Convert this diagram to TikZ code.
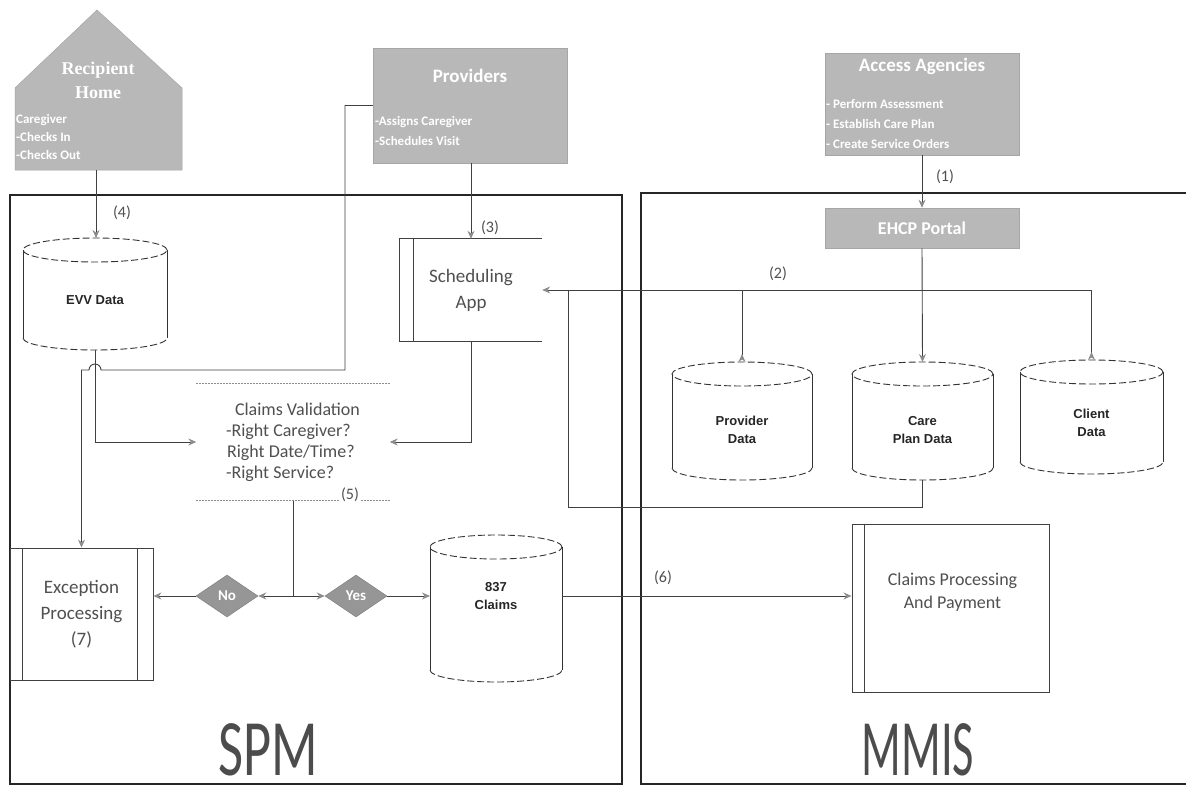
\documentclass[tikz,border=0pt]{standalone}
\usepackage{fontspec}
\setmainfont{Carlito}
\newfontfamily\arialf{Liberation Sans}
\newfontfamily\timesf{Liberation Serif}
\newfontfamily\spmfont[FakeStretch=0.68]{Carlito}
\newfontfamily\mmisfont[FakeStretch=0.58]{Carlito}
\usetikzlibrary{arrows.meta,shapes.geometric}
\definecolor{boxgray}{RGB}{184,184,184}
\definecolor{diagray}{RGB}{150,150,150}
\definecolor{txtgray}{RGB}{80,80,80}
\tikzset{
  frame/.style={draw=black!85, line width=2pt},
  graybox/.style={fill=boxgray, draw=black!35, line width=0.5pt},
  wtitle/.style={text=white, font=\bfseries\fontsize{19}{21}\selectfont, inner sep=0pt},
  wlist/.style={text=white, font=\bfseries\fontsize{13}{#1}\selectfont, align=left, anchor=north west, inner sep=0pt},
  wlist/.default=19,
  housetitle/.style={text=white, font=\timesf\bfseries\fontsize{18}{24}\selectfont, align=center, inner sep=0pt},
  conn/.style={draw=black!75, line width=0.9pt},
  arr/.style={conn, -{Stealth[length=8pt,width=7pt,color=black!45]}},
  arrrev/.style={conn, -{Stealth[length=8pt,width=7pt,color=black!45,reversed]}},
  boxline/.style={draw=black!75, line width=0.9pt},
  lighttxt/.style={text=txtgray, font=\fontsize{19}{#1}\selectfont, align=center, inner sep=0pt},
  lighttxt/.default=26,
  cyltxt/.style={text=black!85, font=\arialf\bfseries\fontsize{13}{18}\selectfont, align=center, inner sep=0pt},
  cylline/.style={draw=black!80, line width=0.9pt},
  cyldash/.style={draw=black!80, line width=0.9pt, dash pattern=on 7pt off 3pt},
  cvline/.style={draw=black!45, line width=0.8pt, dash pattern=on 2pt off 1pt},
  numlbl/.style={text=txtgray, font=\fontsize{16}{16}\selectfont, inner sep=1pt},
  dia/.style={diamond, fill=diagray, draw=black!50, line width=0.5pt, minimum width=62pt, minimum height=42pt, inner sep=0pt, text=white, font=\bfseries\fontsize{15}{15}\selectfont},
  bigtxt/.style={text=black!70, inner sep=0pt}
}
% name, xl, xr, top, bottom, text y, text
\newcommand\dbcyl[7]{%
  \pgfmathsetmacro\cylcx{(#2+#3)/2}%
  \pgfmathsetmacro\cylrx{(#3-#2)/2}%
  \node[cyltxt] (#1) at (\cylcx,#6) {#7};
  \coordinate (#1-n) at (\cylcx,#4);
  \coordinate (#1-s) at (\cylcx,#5);
  \coordinate (#1-w) at (#2,#6);
  \coordinate (#1-e) at (#3,#6);
  \draw[cylline] (#2,#4+12) -- (#2,#5-12);
  \draw[cylline] (#3,#4+12) -- (#3,#5-12);
  \draw[cyldash] (\cylcx,#4+12) ellipse[x radius=\cylrx pt, y radius=12pt];
  \draw[cyldash] (#2,#5-12) arc[start angle=180, end angle=360, x radius=\cylrx pt, y radius=12pt];
}
\begin{document}
\begin{tikzpicture}[x=1pt,y=-1pt]
\useasboundingbox (0,0) rectangle (1186,787);
\clip (0,0) rectangle (1186,787);
\fill[white] (0,0) rectangle (1186,787);

% frames
\draw[frame] (10,195) rectangle (622,784);
\draw[frame] (641,193) rectangle (1194,784);
\node[bigtxt, font=\spmfont\fontsize{80}{80}\selectfont] (spm) at (268,750) {SPM};
\node[bigtxt, font=\mmisfont\fontsize{80}{80}\selectfont] (mmis) at (918,750) {MMIS};

% Recipient Home
\draw[graybox] (15,170) -- (15,88) -- (97,10) -- (182,88) -- (182,170) -- cycle;
\node[housetitle] (hometitle) at (98,80) {Recipient\\Home};
\node[wlist=18] (homelist) at (16,114) {Caregiver\\-Checks In\\-Checks Out};
\coordinate (house-s) at (96,170);

% Providers
\node[graybox, minimum width=194pt, minimum height=115pt] (prov) at (470,105.5) {};
\node[wtitle] (provtitle) at (470,76) {Providers};
\node[wlist=20] (provlist) at (375,116) {-Assigns Caregiver\\-Schedules Visit};

% Access Agencies
\node[graybox, minimum width=194pt, minimum height=102pt] (acc) at (922,104) {};
\node[wtitle] (acctitle) at (922,66) {Access Agencies};
\node[wlist=20] (acclist) at (826,99) {- Perform Assessment\\- Establish Care Plan\\- Create Service Orders};

% EHCP Portal
\node[graybox, minimum width=194pt, minimum height=40pt, text=white, font=\bfseries\fontsize{18}{18}\selectfont] (ehcp) at (922,228) {EHCP Portal};

% Cylinders
\dbcyl{evv}{23}{167}{238}{350}{300}{EVV Data}
\dbcyl{provd}{672}{812}{362}{480}{430}{Provider\\Data}
\dbcyl{care}{852}{993}{362}{480}{430}{Care\\Plan Data}
\dbcyl{client}{1020}{1163}{360}{474}{423}{Client\\Data}
\dbcyl{c837}{430}{562}{535}{682}{596}{837\\Claims}

% Scheduling App
\node[minimum width=142pt, minimum height=102pt, inner sep=0pt, lighttxt] (sched) at (471,290) {Scheduling\\App};
\draw[boxline] (sched.north east) -- (sched.north west) -- (sched.south west) -- (sched.south east);
\draw[boxline] ([xshift=14pt]sched.north west) -- ([xshift=14pt]sched.south west);

% Claims Validation
\node[minimum width=193pt, minimum height=117pt, inner sep=0pt, text=txtgray, font=\fontsize{18}{21}\selectfont, align=left] (cv) at (293,442) {\hspace*{9pt}Claims Validation\\-Right Caregiver?\\\hspace*{1pt}Right Date/Time?\\-Right Service?};
\draw[cvline] (cv.north west) -- (cv.north east);
\draw[cvline] (cv.south west) -- (cv.south east);
\node[numlbl, fill=white] (n5) at (350,495) {(5)};

% Exception Processing
\node[draw=black!75, line width=0.9pt, minimum width=143pt, minimum height=132pt, inner sep=0pt, lighttxt] (exc) at (81.5,614) {Exception\\Processing\\(7)};
\draw[boxline] ([xshift=13pt]exc.north west) -- ([xshift=13pt]exc.south west);
\draw[boxline] ([xshift=-16pt]exc.north east) -- ([xshift=-16pt]exc.south east);

% Claims Processing and Payment
\node[draw=black!75, line width=0.9pt, minimum width=197pt, minimum height=168pt, inner sep=0pt] (cp) at (950.5,608) {};
\draw[boxline] ([xshift=13pt]cp.north west) -- ([xshift=13pt]cp.south west);
\node[lighttxt=23, font=\fontsize{18}{23}\selectfont] (cptxt) at ([xshift=2pt,yshift=16pt]cp.center) {Claims Processing\\And Payment};

% Decisions
\node[dia] (no) at (227,596) {No};
\node[dia] (yes) at (356,596) {Yes};

% ---- connectors ----
\draw[arr] (house-s) -- (house-s |- evv-n);
\node[numlbl] (n4) at (122,213) {(4)};

\draw[arr] (sched.north |- prov.south) -- (sched.north);
\node[numlbl] (n3) at (490,228) {(3)};

\coordinate (pbend) at (345,370);
\draw[arr] (prov.west) -| (pbend) -- ([xshift=6pt]evv-s |- pbend) arc[start angle=0, end angle=180, radius=6pt] -- (exc.north |- pbend) -- (exc.north);

\draw[arr] (evv-s) -- (evv-s |- cv.west) -- (cv.west);
\draw[arr] (sched.south) -- (sched.south |- cv.east) -- (cv.east);

\draw[conn] (cv.south) -- (cv.south |- no.east) coordinate (jn);
\draw[arr] (jn) -- (no.east);
\draw[arr] (jn) -- (yes.west);
\draw[arr] (no.west) -- (no.west -| exc.east);
\draw[arr] (yes.east) -- (c837-w);

\draw[arr] (c837-e) -- (c837-e -| cp.west);
\node[numlbl] (n6) at (663,578) {(6)};

\draw[arr] (acc.south) -- (ehcp.north);
\node[numlbl] (n1) at (945,177) {(1)};

\draw[arr] (ehcp.south) -- (care-n);
\draw[arr] (client-n |- sched.east) -- (sched.east);
\draw[arrrev] (client-n |- sched.east) -- (client-n);
\draw[arrrev] (provd-n |- sched.east) -- (provd-n);
\node[numlbl] (n2) at (778,274) {(2)};

\coordinate (retx) at (568,507);
\draw[conn] (care-s) |- (retx) -- (retx |- sched.east);
\end{tikzpicture}
\end{document}
